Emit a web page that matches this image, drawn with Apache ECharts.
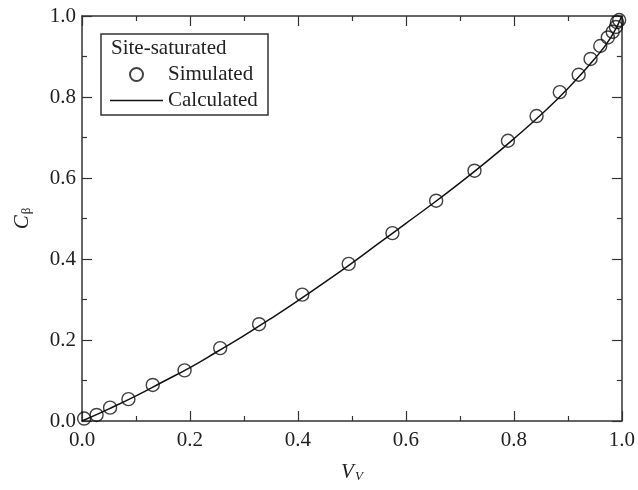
<!DOCTYPE html>
<html>
<head>
<meta charset="utf-8">
<script src="https://cdn.jsdelivr.net/npm/echarts@6/dist/echarts.min.js"></script>
<style>
  html, body { margin: 0; padding: 0; background: #ffffff; }
  #chart { width: 638px; height: 490px; }
</style>
</head>
<body>
<div id="chart"></div>
<script>
// simulated points (V_V, C_beta)
var simX = [0.004, 0.027, 0.052, 0.086, 0.131, 0.190, 0.256, 0.328, 0.408, 0.494, 0.575, 0.656, 0.727,
  0.789, 0.842, 0.885, 0.920, 0.942, 0.960, 0.974, 0.983, 0.989, 0.991, 0.995]
var simY = [0.006, 0.015, 0.033, 0.054, 0.089, 0.125, 0.180, 0.239, 0.312, 0.388, 0.464, 0.544, 0.618,
  0.692, 0.753, 0.812, 0.855, 0.894, 0.926, 0.947, 0.961, 0.973, 0.985, 0.990]

// calculated curve
var calcX = [0, 0.05, 0.1, 0.15, 0.2, 0.25, 0.3, 0.35, 0.4, 0.45, 0.5, 0.55, 0.6, 0.65, 0.7, 0.75, 0.8, 0.85, 0.9, 0.95, 0.98, 1.0]
var calcY = [0, 0.030, 0.062, 0.097, 0.132, 0.171, 0.211, 0.253, 0.297, 0.343, 0.390, 0.439, 0.488, 0.537, 0.588, 0.641, 0.697, 0.756, 0.821, 0.895, 0.948, 1.0]

var xTicks = ['0.0', '0.2', '0.4', '0.6', '0.8', '1.0']

var font = 'Liberation Serif'
var ink = '#222'

function pairs (xs, ys) {
  var out = []
  for (var i = 0; i < xs.length; i++) out.push([xs[i], ys[i]])
  return out
}

function axisBase (pos, showLabel) {
  return {
    type: 'value',
    position: pos,
    min: 0,
    max: 1,
    interval: 0.2,
    axisLine: { show: true, onZero: false, lineStyle: { color: '#333', width: 1.5 } },
    axisTick: { show: true, inside: true, length: 10, lineStyle: { color: '#333', width: 1.2 } },
    minorTick: { show: true, splitNumber: 2, length: 5, lineStyle: { color: '#333', width: 1.2 } },
    splitLine: { show: false },
    axisLabel: {
      show: showLabel,
      color: ink,
      fontFamily: font,
      fontSize: 21,
      formatter: function (v) { return xTicks[Math.round(v * 5)] }
    }
  }
}

var chart = echarts.init(document.getElementById('chart'))

var xBottom = axisBase('bottom', true)
xBottom.axisLabel.margin = 9
xBottom.name = '{v|V}{s|V}'
xBottom.nameLocation = 'middle'
xBottom.nameGap = 38
xBottom.nameTextStyle = {
  rich: {
    v: { fontFamily: font, fontStyle: 'italic', fontSize: 21, color: ink, verticalAlign: 'bottom', lineHeight: 24 },
    s: { fontFamily: font, fontStyle: 'italic', fontSize: 13, color: ink, verticalAlign: 'bottom', lineHeight: 24, padding: [12, 0, 0, 1] }
  }
}
var xTop = axisBase('top', false)

var yLeft = axisBase('left', true)
yLeft.axisLabel.margin = 6
yLeft.name = '{v|C}{s|β}'
yLeft.nameLocation = 'middle'
yLeft.nameGap = 49
yLeft.nameTextStyle = {
  rich: {
    v: { fontFamily: font, fontStyle: 'italic', fontSize: 21, color: ink, verticalAlign: 'bottom', lineHeight: 24 },
    s: { fontFamily: font, fontSize: 13, color: ink, verticalAlign: 'bottom', lineHeight: 24, padding: [12, 0, 0, 1] }
  }
}
var yRight = axisBase('right', false)

chart.setOption({
  animation: false,
  backgroundColor: '#ffffff',
  grid: { left: 81, right: 14, top: 16, bottom: 69, containLabel: false },
  xAxis: [xBottom, xTop],
  yAxis: [yLeft, yRight],
  legend: {
    left: 110,
    top: 64,
    orient: 'vertical',
    padding: 0,
    itemGap: 5,
    itemWidth: 53,
    itemHeight: 13,
    textStyle: { fontFamily: font, fontSize: 21, color: ink, lineHeight: 21 },
    data: [
      { name: 'Simulated' },
      { name: 'Calculated', icon: 'path://M0,0 L53,0 L53,1.6 L0,1.6 Z' }
    ]
  },
  graphic: [
    {
      type: 'rect',
      shape: { x: 101, y: 34, width: 167, height: 81 },
      style: { fill: 'none', stroke: '#333', lineWidth: 1.5 }
    },
    {
      type: 'text',
      left: 111,
      top: 38,
      style: { text: 'Site-saturated', font: '21px "Liberation Serif"', fill: ink }
    }
  ],
  series: [
    {
      name: 'Calculated',
      type: 'line',
      smooth: true,
      symbol: 'none',
      lineStyle: { color: '#111', width: 1.5 },
      itemStyle: { color: '#111' },
      data: pairs(calcX, calcY),
      z: 2
    },
    {
      name: 'Simulated',
      type: 'scatter',
      symbol: 'circle',
      symbolSize: 13,
      itemStyle: { color: 'rgba(0,0,0,0)', borderColor: '#111', borderWidth: 1.4 },
      data: pairs(simX, simY),
      z: 3
    }
  ]
})
</script>
</body>
</html>
